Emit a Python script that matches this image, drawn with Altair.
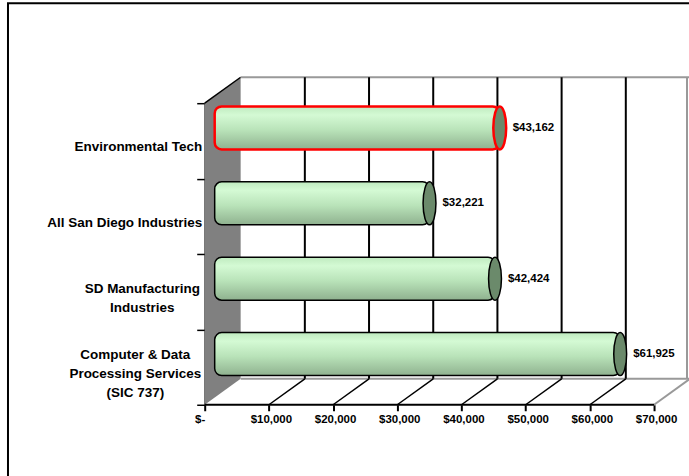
import altair as alt
import pandas as pd

# ---- data ----
categories = [
    "Environmental Tech",
    "All San Diego Industries",
    "SD Manufacturing|Industries",
    "Computer & Data|Processing Services|(SIC 737)",
]
wages = [43162, 32221, 42424, 61925]
highlight = [True, False, False, False]
tick_values = [0, 10000, 20000, 30000, 40000, 50000, 60000, 70000]

# ---- layout ----
W, H = 485, 302
XMAX = 70000 * W / 450.0
DX, DY = 36, -26          # depth offset of back wall
FONT = "Liberation Sans, Arial, sans-serif"
LINE_H = 19

df = pd.DataFrame({"cat": categories, "wage": wages, "hl": highlight})
df["start"] = 0
grid_df = pd.DataFrame({"v": tick_values})
inner_grid = grid_df[(grid_df.v > 0) & (grid_df.v < 70000)]
edge_df = pd.DataFrame({"v": [tick_values[0]], "v2": [tick_values[-1]]})

xs = alt.Scale(domain=[0, XMAX], nice=False, zero=True)
ys = alt.Scale(domain=categories, paddingInner=0, paddingOuter=0)

x_axis = alt.Axis(
    values=tick_values,
    labelExpr="datum.value == 0 ? '$-' : format(datum.value, '$,.0f')",
    title=None, domain=False, grid=False,
    tickColor="black", tickWidth=2, tickSize=6,
    labelFont=FONT, labelFontSize=11.5, labelFontWeight="bold", labelColor="black",
    labelPadding=3, labelFlush=False, labelOverlap=False,
    labelOffset={"condition": {"test": "datum.value == 0", "value": -5}, "value": 2},
)

N_LINES = "length(split(datum.value, '|'))"
y_axis = alt.Axis(
    title=None,
    labelExpr="split(datum.label, '|')",
    labelFont=FONT, labelFontSize=13.5, labelFontWeight="bold", labelColor="black",
    labelLineHeight=LINE_H, labelLimit=0,
    labelOffset={
        "condition": [
            {"test": N_LINES + " == 3", "value": 6 - LINE_H},
            {"test": N_LINES + " == 2", "value": 6 - LINE_H / 2},
        ],
        "value": 6,
    },
    labelAlign={"condition": {"test": N_LINES + " > 1", "value": "center"}, "value": "right"},
    labelPadding={
        "condition": [
            {"test": N_LINES + " == 3", "value": 62},
            {"test": N_LINES + " == 2", "value": 55},
        ],
        "value": -5,
    },
    tickBand="extent", tickSize=8, tickColor="black", tickWidth=1.5,
    domainColor="black", domainWidth=1.5, grid=False,
)


def X(field):
    return alt.X(field, scale=xs, axis=x_axis)


def Y(field):
    return alt.Y(field, scale=ys, axis=y_axis, sort=categories)


one = alt.Chart(pd.DataFrame({"a": [0]}))

frame = one.mark_rect(fill="transparent", stroke="black", strokeWidth=2).encode(
    x=alt.value(-197), x2=alt.value(W + 30), y=alt.value(-100), y2=alt.value(H + 120)
)

wall_df = pd.DataFrame({"px": [0, DX], "top": [0, DY], "bot": [H, H + DY]})
wall = alt.Chart(wall_df).mark_area(color="#808080", orient="vertical").encode(
    x=alt.X("px:Q", scale=None, axis=None),
    y=alt.Y("top:Q", scale=None, axis=None),
    y2="bot:Q",
)
wall_top = one.mark_rule(color="black", strokeWidth=1.5).encode(
    x=alt.value(0), x2=alt.value(DX), y=alt.value(0), y2=alt.value(DY)
)

gray = "#999999"
back_top = alt.Chart(edge_df).mark_rule(color=gray, strokeWidth=2, xOffset=DX, x2Offset=DX).encode(
    x=X("v:Q"), x2="v2:Q", y=alt.value(DY)
)
back_floor = alt.Chart(edge_df).mark_rule(color=gray, strokeWidth=2, xOffset=DX, x2Offset=DX).encode(
    x=X("v:Q"), x2="v2:Q", y=alt.value(H + DY)
)
back_right = alt.Chart(edge_df).mark_rule(color=gray, strokeWidth=2, xOffset=DX - 3).encode(
    x=X("v2:Q"), y=alt.value(DY), y2=alt.value(H + DY)
)
floor_right = alt.Chart(edge_df).mark_rule(color=gray, strokeWidth=2, x2Offset=DX).encode(
    x=X("v2:Q"), x2="v2:Q", y=alt.value(H), y2=alt.value(H + DY)
)

grid = alt.Chart(inner_grid).mark_rule(color="black", strokeWidth=2, xOffset=DX).encode(
    x=X("v:Q"), y=alt.value(DY), y2=alt.value(H + DY)
)
floor = alt.Chart(inner_grid).mark_rule(color="black", strokeWidth=1.5, x2Offset=DX).encode(
    x=X("v:Q"), x2="v:Q", y=alt.value(H), y2=alt.value(H + DY)
)
front_axis = alt.Chart(edge_df).mark_rule(color="black", strokeWidth=2).encode(
    x=X("v:Q"), x2="v2:Q", y=alt.value(H)
)

grad = alt.Gradient(
    gradient="linear",
    stops=[
        alt.GradientStop(color="#bfeabf", offset=0),
        alt.GradientStop(color="#d4fad4", offset=0.2),
        alt.GradientStop(color="#b9e3b9", offset=0.55),
        alt.GradientStop(color="#8fb18f", offset=1),
    ],
    x1=0, x2=0, y1=0, y2=1,
)

stroke_c = alt.condition("datum.hl", alt.value("#ff0000"), alt.value("black"))
stroke_w = alt.condition("datum.hl", alt.value(2.5), alt.value(1.5))

base = alt.Chart(df)
bars = base.mark_bar(
    size=43, xOffset=10, x2Offset=18, yOffset=-13, y2Offset=-13, cornerRadius=7, fill=grad
).encode(
    x=X("start:Q"),
    x2="wage:Q",
    y=Y("cat:N"),
    stroke=stroke_c,
    strokeWidth=stroke_w,
)

ELLIPSE = "M0,-1 A0.3,1 0 1,1 0,1 A0.3,1 0 1,1 0,-1 Z"
caps = base.mark_point(
    shape=ELLIPSE, size=1849, filled=True, fill="#6b8a6b", opacity=1, xOffset=18, yOffset=-13
).encode(
    x=X("wage:Q"),
    y=Y("cat:N"),
    stroke=stroke_c,
    strokeWidth=stroke_w,
)

labels = base.mark_text(
    align="left", baseline="middle", dx=31, dy=-13,
    font=FONT, fontSize=11.5, fontWeight="bold", color="black",
).encode(
    x=X("wage:Q"),
    y=Y("cat:N"),
    text=alt.Text("wage:Q", format="$,.0f"),
)

chart = alt.layer(
    frame, wall, wall_top, back_top, back_right, back_floor, floor_right,
    grid, floor, front_axis, bars, caps, labels,
).properties(
    width=W, height=H,
    padding={"left": 205, "top": 103, "right": 0, "bottom": 71},
    autosize=alt.AutoSizeParams(type="none"),
    background="white",
).configure_view(strokeWidth=0)

chart.save("out.html", embed_options={"renderer": "svg", "actions": False})
